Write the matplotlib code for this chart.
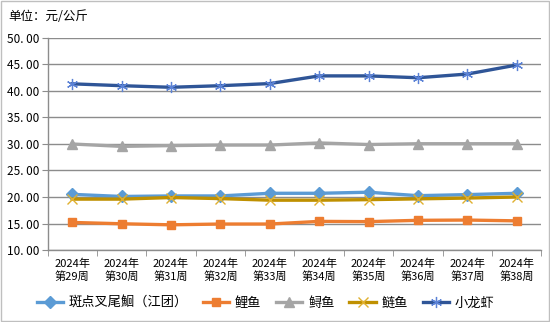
import matplotlib
matplotlib.use("Agg")
import matplotlib.pyplot as plt
from matplotlib.ticker import FixedLocator
import numpy as np

plt.rcParams['font.family'] = ['Noto Sans CJK SC', 'DejaVu Sans']

weeks = ["2024年\n第29周", "2024年\n第30周", "2024年\n第31周", "2024年\n第32周", "2024年\n第33周",
         "2024年\n第34周", "2024年\n第35周", "2024年\n第36周", "2024年\n第37周", "2024年\n第38周"]
spotted = [20.5, 20.1, 20.2, 20.2, 20.7, 20.7, 20.9, 20.25, 20.45, 20.7]
carp = [15.2, 14.95, 14.75, 14.9, 14.9, 15.4, 15.35, 15.6, 15.65, 15.5]
sturgeon = [30.0, 29.55, 29.7, 29.8, 29.8, 30.2, 29.9, 30.05, 30.05, 30.05]
silver = [19.6, 19.6, 19.9, 19.7, 19.4, 19.4, 19.5, 19.65, 19.8, 20.0]
crayfish = [41.35, 41.0, 40.7, 41.0, 41.4, 42.85, 42.85, 42.5, 43.2, 44.9]
names = ["斑点叉尾鮰（江团）", "鲤鱼", "鲟鱼", "鲢鱼", "小龙虾"]

fig = plt.figure(figsize=(5.5, 3.22), dpi=100)
ax = fig.add_axes([0.0864, 0.2236, 0.898, 0.6584])
x = np.arange(len(weeks))

ax.plot(x, spotted, color="#5B9BD5", lw=2.4, marker="D", ms=6, mec="#5B9BD5", mfc="#5B9BD5", label=names[0])
ax.plot(x, carp, color="#ED7D31", lw=2.4, marker="s", ms=6, mec="#ED7D31", mfc="#ED7D31", label=names[1])
ax.plot(x, sturgeon, color="#A5A5A5", lw=2.4, marker="^", ms=7, mec="#A5A5A5", mfc="#A5A5A5", label=names[2])
ax.plot(x, silver, color="#BF9000", lw=2.4, marker="x", ms=7, mec="#E0B030", mew=1.0, label=names[3])
ax.plot(x, crayfish, color="#2F5597", lw=2.4, marker=(6, 2, 0), ms=8, mec="#5B82D6", mew=0.9, label=names[4])

ax.set_xlim(-0.5, len(weeks) - 0.5)
ax.set_ylim(10, 50)
yt = np.arange(10, 50.1, 5)
ax.set_yticks(yt)
ax.set_yticklabels([f"{v:.2f}".replace(".", ". ") for v in yt], fontsize=8.5)
ax.yaxis.grid(True, color="#8C8C8C", lw=1.0)
ax.set_axisbelow(True)
ax.set_xticks(x)
ax.set_xticklabels(weeks, fontsize=8, linespacing=1.25)
ax.tick_params(axis="x", which="major", length=0, pad=6)
ax.xaxis.set_minor_locator(FixedLocator(np.arange(-0.5, len(weeks), 1)))
ax.tick_params(axis="x", which="minor", length=4, color="#8C8C8C")
ax.tick_params(axis="y", length=4, color="#8C8C8C", pad=2)
for s in ["top", "right"]:
    ax.spines[s].set_visible(False)
for s in ["left", "bottom"]:
    ax.spines[s].set_color("#8C8C8C")
    ax.spines[s].set_linewidth(1.0)

fig.text(0.015, 0.95, "单位：元/公斤", fontsize=9, va="center", ha="left")

fig.legend(loc="center", bbox_to_anchor=(0.483, 0.059), ncol=5, frameon=False,
           fontsize=9.5, handlelength=2.0, columnspacing=1.1, handletextpad=0.45)

border = plt.Rectangle((0.002, 0.003), 0.996, 0.994, transform=fig.transFigure,
                       fill=False, ec="#BFBFBF", lw=1.0)
fig.add_artist(border)

fig.savefig("out.png", dpi=100)
